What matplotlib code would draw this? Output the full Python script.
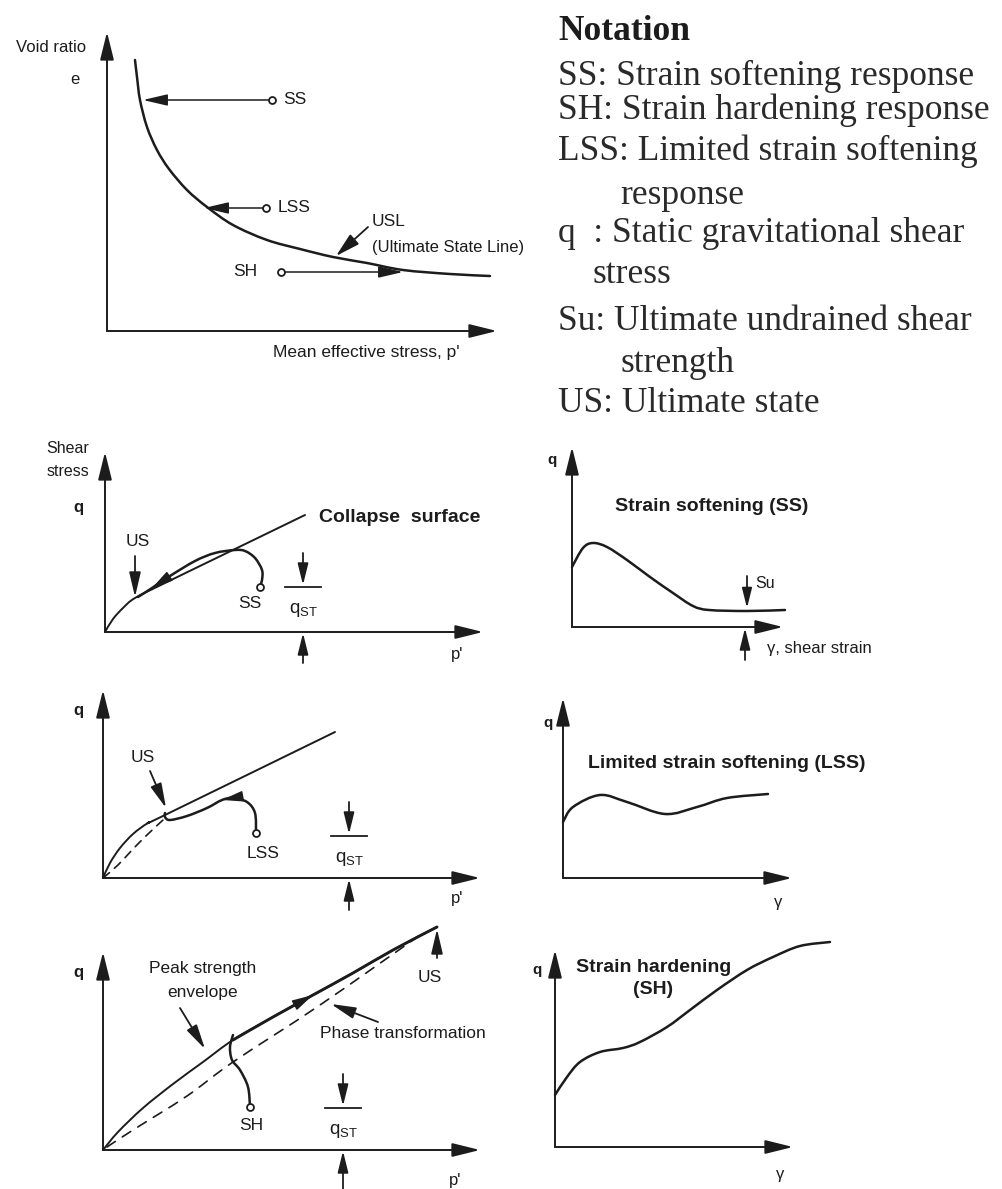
import numpy as np
import matplotlib.pyplot as plt
from matplotlib.path import Path
from matplotlib.patches import PathPatch

plt.rcParams['mathtext.default'] = 'regular'

INK = '#1c1c1c'
SANS = ['Liberation Sans', 'DejaVu Sans']
SERIF = ['Liberation Serif', 'DejaVu Serif']

# ---- e - p' plane: ultimate state line and the three initial states
usl_p = [28, 30, 33, 40, 50, 62, 80, 100, 126, 160, 193, 226, 260, 296, 343, 383]
usl_e = [271, 254, 231, 204, 181, 162, 141, 124, 106, 91, 82, 74, 68, 61, 57, 55]
state_names = ['SS', 'LSS', 'SH']
state_p = [165, 159, 174]
state_e = [231, 123, 59]
state_end_p = [36, 97, 296]

# ---- q - p' plane, strain softening
collapse_p = [0, 8, 18, 30, 60, 130, 200]
collapse_q = [0, 13, 24, 34, 49, 83, 117]
ss_path_p = [155, 157, 157, 150, 140, 130, 110, 90, 65, 47, 33]
ss_path_q = [45, 52, 62, 74, 81, 82, 79, 71, 56, 44, 35]

# ---- q - gamma, strain softening
ss_gam = [0, 11, 21, 35, 55, 78, 101, 121, 137, 175, 213]
ss_q = [60, 79, 84, 80, 67, 50, 34, 21, 17, 16, 17]

# ---- q - p' plane, limited strain softening
lss_env_p = [0, 7, 17, 30, 45, 62, 232]
lss_env_q = [0, 15, 30, 44, 55, 63, 146]
lss_pt_p = [0, 15, 30, 45, 60]
lss_pt_q = [0, 13, 29, 44, 58]
lss_path_p = [153, 152, 144, 130, 119, 104, 84, 67, 62, 62]
lss_path_q = [45, 65, 76, 80, 78, 70, 62, 58, 61, 65]

# ---- q - gamma, limited strain softening
lss_gam = [0, 10, 37, 64, 102, 134, 164, 205]
lss_q = [56, 71, 83, 76, 64, 71, 80, 84]

# ---- q - p' plane, strain hardening
sh_env_p = [0, 15, 40, 70, 100, 130, 170, 210, 250, 290, 334]
sh_env_q = [0, 18, 42, 66, 88, 110, 133, 155, 177, 200, 223]
sh_pt_p = [4, 30, 84, 130, 217, 320]
sh_pt_q = [3, 20, 54, 88, 145, 217]
sh_path_p = [147, 145, 137, 129, 127, 130]
sh_path_q = [43, 63, 80, 90, 103, 115]

# ---- q - gamma, strain hardening
sh_gam = [0, 12, 25, 45, 68, 85, 112, 135, 162, 192, 218, 245, 275]
sh_q = [52, 70, 85, 95, 99, 105, 120, 137, 157, 177, 190, 201, 205]

notation_title = 'Notation'
notation_lines = ['SS: Strain softening response',
                  'SH: Strain hardening response',
                  'LSS: Limited strain softening',
                  'response',
                  'q  : Static gravitational shear',
                  'stress',
                  'Su: Ultimate undrained shear',
                  'strength',
                  'US: Ultimate state']

W, H = 1002, 1189
fig = plt.figure(figsize=(W / 100, H / 100), dpi=100)
fig.patch.set_facecolor('white')


def arrow(ax, start, end, hl=1.5, hw=0.38, lw=1.4):
    ax.annotate('', xy=end, xytext=start, annotation_clip=False,
                arrowprops=dict(arrowstyle=f'-|>,head_length={hl},head_width={hw}',
                                lw=lw, color=INK, shrinkA=0, shrinkB=0))


def head(ax, x, y, i):
    # arrowhead sitting on a path, pointing from point i to point i+1
    ax.annotate('', xy=(x[i + 1], y[i + 1]), xytext=(x[i], y[i]),
                arrowprops=dict(arrowstyle='-|>,head_length=1.3,head_width=0.33',
                                lw=1.0, color=INK, shrinkA=0, shrinkB=0))


def panel(x0, y0, w, h):
    # x0, y0: pixel position of the origin; w, h: axis lengths in pixels
    ax = fig.add_axes([x0 / W, 1 - y0 / H, w / W, h / H])
    ax.set_xlim(0, w)
    ax.set_ylim(0, h)
    ax.axis('off')
    arrow(ax, (0, 0), (w, 0), hl=1.7, hw=0.42)
    arrow(ax, (0, 0), (0, h), hl=1.7, hw=0.42)
    return ax


def label(ax, x, y, s, size=10, ha='center', weight='normal', **kw):
    ax.text(x, y, s, ha=ha, va='center', fontsize=size, family=SANS,
            weight=weight, color=INK, clip_on=False, **kw)


def curve(ax, x, y, lw=1.6, ls='-'):
    # smooth curve through the points (Catmull-Rom segments as cubic Beziers)
    pts = np.column_stack([x, y]).astype(float)
    verts, codes = [pts[0]], [Path.MOVETO]
    n = len(pts)
    for i in range(n - 1):
        p0, p1 = pts[max(i - 1, 0)], pts[i]
        p2, p3 = pts[i + 1], pts[min(i + 2, n - 1)]
        verts += [p1 + (p2 - p0) / 6, p2 - (p3 - p1) / 6, p2]
        codes += [Path.CURVE4] * 3
    ax.add_patch(PathPatch(Path(verts, codes), fill=False, ec=INK, lw=lw, ls=ls,
                           capstyle='round', joinstyle='round', clip_on=False))


def state(ax, x, y):
    ax.plot(x, y, 'o', ms=5, mfc='white', mec=INK, mew=1.3, zorder=5, clip_on=False)


def q_static(ax, x, ymark, ybelow):
    # static shear stress marker above the curve and pointer under the p' axis
    arrow(ax, (x, ymark + 34), (x, ymark + 2), hl=1.3, hw=0.32, lw=1.3)
    ax.plot([x - 18, x + 18], [ymark, ymark], color=INK, lw=1.3, clip_on=False)
    label(ax, x + 1, ymark - 23, 'q$_{ST}$', size=13.5)
    arrow(ax, (x, ybelow), (x, -1), hl=1.3, hw=0.32, lw=1.3)


# --- e - p' plane
ax = panel(107, 331, 390, 299)
curve(ax, usl_p, usl_e, lw=1.8)
for name, p, e, pe in zip(state_names, state_p, state_e, state_end_p):
    arrow(ax, (p, e), (pe, e), hl=1.5, hw=0.35, lw=1.1)
    state(ax, p, e)
label(ax, 176, 231, 'SS', size=12.5, ha='left')
label(ax, 171, 123, 'LSS', size=12.5, ha='left')
label(ax, 138, 60, 'SH', size=12.5)
arrow(ax, (261, 104), (229, 75), hl=1.5, hw=0.4, lw=1.3)
label(ax, 265, 110, 'USL', size=12.5, ha='left')
label(ax, 265, 84, '(Ultimate State Line)', size=12, ha='left')
label(ax, -56, 283, 'Void ratio', size=12)
label(ax, -32, 251, 'e', size=12)
label(ax, 259, -21, "Mean effective stress, p'", size=12.5)

# --- q - p', strain softening
ax = panel(105, 632, 378, 180)
curve(ax, collapse_p, collapse_q, lw=1.4)
curve(ax, ss_path_p, ss_path_q, lw=1.8)
head(ax, ss_path_p, ss_path_q, 8)
state(ax, ss_path_p[0], ss_path_q[0])
arrow(ax, (30, 76), (30, 35), hl=1.5, hw=0.35, lw=1.3)
label(ax, 33, 90, 'US', size=12.5)
label(ax, 145, 29, 'SS', size=12.5)
label(ax, 214, 115, 'Collapse  surface', size=14, ha='left', weight='bold')
label(ax, -37, 184, 'Shear', size=11.5)
label(ax, -37, 161, 'stress', size=11.5)
label(ax, -27, 125, 'q', size=12, weight='bold')
label(ax, 352, -22, "p'", size=12)
q_static(ax, 198, 45, -31)

# --- q - gamma, strain softening
ax = panel(572, 627, 211, 180)
curve(ax, ss_gam, ss_q, lw=1.8)
arrow(ax, (175, 51), (175, 19), hl=1.2, hw=0.3, lw=1.3)
label(ax, 183, 44, 'Su', size=11.5, ha='left')
arrow(ax, (173, -33), (173, -1), hl=1.3, hw=0.32, lw=1.3)
label(ax, 195, -21, '\u03b3, shear strain', size=12, ha='left')
label(ax, -20, 167, 'q', size=11, weight='bold')
label(ax, 43, 120, 'Strain softening (SS)', size=14, ha='left', weight='bold')

# --- q - p', limited strain softening
ax = panel(103, 878, 377, 188)
curve(ax, lss_env_p, lss_env_q, lw=1.4)
curve(ax, lss_pt_p, lss_pt_q, lw=1.2, ls=(0, (5, 4)))
curve(ax, lss_path_p, lss_path_q, lw=1.8)
head(ax, lss_path_p, lss_path_q, 3)
state(ax, lss_path_p[0], lss_path_q[0])
arrow(ax, (47, 107), (63, 70), hl=1.5, hw=0.35, lw=1.3)
label(ax, 40, 121, 'US', size=12.5)
label(ax, 160, 25, 'LSS', size=12.5)
label(ax, -25, 168, 'q', size=12, weight='bold')
label(ax, 354, -20, "p'", size=12)
q_static(ax, 246, 42, -32)

# --- q - gamma, limited strain softening
ax = panel(563, 878, 229, 180)
curve(ax, lss_gam, lss_q, lw=1.8)
label(ax, -15, 155, 'q', size=11, weight='bold')
label(ax, 25, 115, 'Limited strain softening (LSS)', size=14, ha='left', weight='bold')
label(ax, 215, -24, '\u03b3', size=12)

# --- q - p', strain hardening
ax = panel(103, 1150, 377, 198)
curve(ax, sh_env_p, sh_env_q, lw=1.4)
curve(ax, sh_env_p[5:], sh_env_q[5:], lw=2.1)
curve(ax, sh_pt_p, sh_pt_q, lw=1.2, ls=(0, (6, 5)))
curve(ax, sh_path_p, sh_path_q, lw=1.8)
head(ax, sh_env_p, sh_env_q, 6)
state(ax, sh_path_p[0], sh_path_q[0])
arrow(ax, (334, 192), (334, 221), hl=1.5, hw=0.35, lw=1.3)
label(ax, 327, 172, 'US', size=12.5)
label(ax, 100, 182, 'Peak strength', size=12.5)
label(ax, 100, 158, 'envelope', size=12.5)
arrow(ax, (77, 142), (102, 101), hl=1.5, hw=0.35, lw=1.3)
label(ax, 217, 117, 'Phase transformation', size=12.5, ha='left')
arrow(ax, (275, 128), (228, 146), hl=1.5, hw=0.35, lw=1.3)
label(ax, 148, 25, 'SH', size=12.5)
label(ax, -25, 178, 'q', size=12, weight='bold')
label(ax, 352, -30, "p'", size=12)
q_static(ax, 240, 42, -39)

# --- q - gamma, strain hardening
ax = panel(555, 1147, 238, 197)
curve(ax, sh_gam, sh_q, lw=1.8)
label(ax, -18, 177, 'q', size=11, weight='bold')
label(ax, 99, 179, 'Strain hardening', size=14, weight='bold')
label(ax, 98, 157, '(SH)', size=14, weight='bold')
label(ax, 225, -28, '\u03b3', size=12)

# --- notation block
fig.text(558 / W, 1 - 27 / H, notation_title, ha='left', va='center_baseline',
         fontsize=25.5, weight='bold', family=SERIF, color=INK)
note_x = [558, 558, 558, 620, 558, 592, 558, 620, 558]
note_y = [72, 106, 147, 191, 230, 270, 318, 359, 400]
for s, x, y in zip(notation_lines, note_x, note_y):
    fig.text(x / W, 1 - y / H, s, ha='left', va='center_baseline',
             fontsize=25.5, family=SERIF, color='#2a2a2a')

fig.savefig('out.png', dpi=100, facecolor='white')
